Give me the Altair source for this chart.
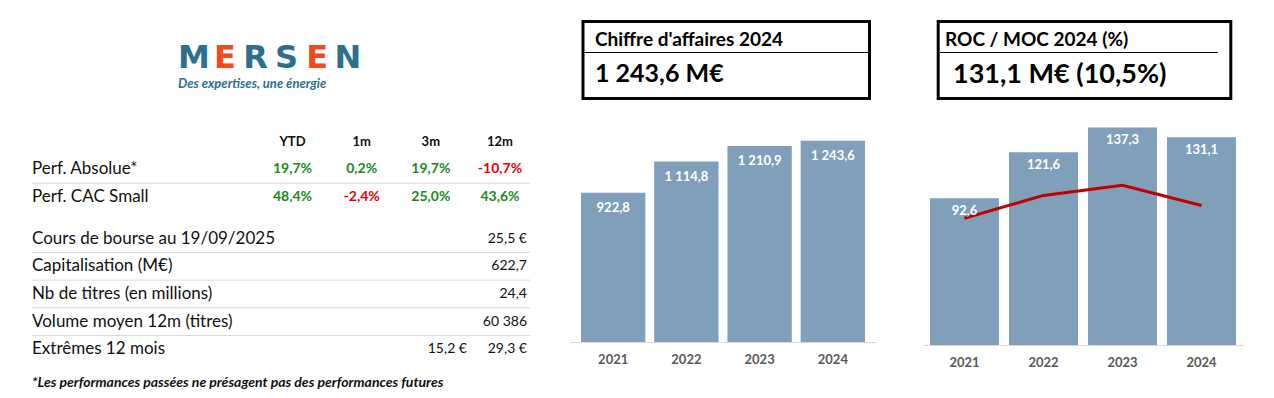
import altair as alt
import pandas as pd

# ------------------------------------------------------------------ data
YEARS = ["2021", "2022", "2023", "2024"]
CA_VALUES = [922.8, 1114.8, 1210.9, 1243.6]
ROC_VALUES = [92.6, 121.6, 137.3, 131.1]
MOC_VALUES = [10.0, 10.9, 11.3, 10.5]

PERF_COLS = ["YTD", "1m", "3m", "12m"]
PERF_ROWS = ["Perf. Absolue*", "Perf. CAC Small"]
PERF_ABS = ["19,7%", "0,2%", "19,7%", "-10,7%"]
PERF_CAC = ["48,4%", "-2,4%", "25,0%", "43,6%"]

INFO_LABELS = ["Cours de bourse au 19/09/2025", "Capitalisation (M€)",
               "Nb de titres (en millions)", "Volume moyen 12m (titres)",
               "Extrêmes 12 mois"]
INFO_VALUES = ["25,5 €", "622,7", "24,4", "60 386", "29,3 €"]
INFO_LOW = ["", "", "", "", "15,2 €"]

CA_TITLE = "Chiffre d'affaires 2024"
CA_HEADLINE = "1 243,6 M€"
ROC_TITLE = "ROC / MOC 2024 (%)"
ROC_HEADLINE = "131,1 M€ (10,5%)"
FOOTNOTE = "*Les performances passées ne présagent pas des performances futures"
LOGO_LETTERS = ["M", "E", "R", "S", "E", "N"]
LOGO_ACCENT = ["E"]
LOGO_TAGLINE = "Des expertises, une énergie"

# ------------------------------------------------------------------ layout / style
FONT = "Lato"
BAR = "#7F9FBA"
LINE = "#C00000"
GREEN = "#1a8a1a"
RED = "#e60000"
LOGO_BLUE = "#2E6F8E"
LOGO_ORANGE = "#EE4B1F"
TXT = "#111111"

PERF_SLOTS = [2, 4]
INFO_SLOTS = [7, 9, 11, 13, 15]
SEP_SLOTS = [3, 8, 10, 12, 14]


def fr(v):
    return f"{v:,.1f}".replace(",", " ").replace(".", ",")


# ------------------------------------------------------------------ left panel
cells = []
for c in PERF_COLS:
    cells.append(dict(slot=0, col=c, text=c, kind="hdr", sign="pos"))
for slot, lab, vals in zip(PERF_SLOTS, PERF_ROWS, [PERF_ABS, PERF_CAC]):
    cells.append(dict(slot=slot, col="", text=lab, kind="label", sign="pos"))
    for c, v in zip(PERF_COLS, vals):
        cells.append(dict(slot=slot, col=c, text=v, kind="perf",
                          sign="neg" if v.startswith("-") else "pos"))
for slot, lab, v, lo in zip(INFO_SLOTS, INFO_LABELS, INFO_VALUES, INFO_LOW):
    cells.append(dict(slot=slot, col="", text=lab, kind="label", sign="pos"))
    cells.append(dict(slot=slot, col="", text=v, kind="val", sign="pos"))
    if lo:
        cells.append(dict(slot=slot, col="", text=lo, kind="val2", sign="pos"))
cells_df = pd.DataFrame(cells)
sep_df = pd.DataFrame({"slot": SEP_SLOTS})
logo_df = pd.DataFrame({"i": list(range(len(LOGO_LETTERS))), "letter": LOGO_LETTERS,
                        "accent": ["a" if l in LOGO_ACCENT else "b" for l in LOGO_LETTERS]})

ys = alt.Y("slot:Q", scale=alt.Scale(domain=[0, 15], range=[133.7, 341.3], nice=False, zero=False), axis=None)
xcol = alt.X("col:N", scale=alt.Scale(type="point", domain=PERF_COLS, range=[284.5, 492], padding=0), axis=None)
xlogo = alt.X("i:O", scale=alt.Scale(type="point", domain=list(range(len(LOGO_LETTERS))), range=[186, 340], padding=0), axis=None)

base_cells = alt.Chart(cells_df)

logo = alt.Chart(logo_df).mark_text(
    font="DejaVu Sans", fontWeight="bold", fontSize=32, baseline="alphabetic", align="center"
).encode(x=xlogo, y=alt.value(60), text="letter:N",
         color=alt.Color("accent:N", scale=alt.Scale(domain=["a", "b"], range=[LOGO_ORANGE, LOGO_BLUE]), legend=None))
tagline = alt.Chart(pd.DataFrame({"t": [LOGO_TAGLINE]})).mark_text(
    font=FONT, fontWeight="bold", fontStyle="italic", fontSize=13, color=LOGO_BLUE, align="left", baseline="middle"
).encode(x=alt.value(170), y=alt.value(76), text="t:N")

hdr = base_cells.transform_filter("datum.kind == 'hdr'").mark_text(
    font=FONT, fontWeight="bold", fontSize=13, color=TXT, baseline="middle"
).encode(x=xcol, y=ys, text="text:N")
perf = base_cells.transform_filter("datum.kind == 'perf'").mark_text(
    font=FONT, fontWeight="bold", fontSize=14, baseline="middle"
).encode(x=xcol, y=ys, text="text:N",
         color=alt.Color("sign:N", scale=alt.Scale(domain=["pos", "neg"], range=[GREEN, RED]), legend=None))
labels = base_cells.transform_filter("datum.kind == 'label'").mark_text(
    font=FONT, fontSize=17, color=TXT, align="left", baseline="middle"
).encode(x=alt.value(24), y=ys, text="text:N")
vals = base_cells.transform_filter("datum.kind == 'val'").mark_text(
    font=FONT, fontSize=14, color=TXT, align="right", baseline="middle"
).encode(x=alt.value(519), y=ys, text="text:N")
vals2 = base_cells.transform_filter("datum.kind == 'val2'").mark_text(
    font=FONT, fontSize=14, color=TXT, align="right", baseline="middle"
).encode(x=alt.value(459), y=ys, text="text:N")
seps = alt.Chart(sep_df).mark_rule(color="#d9d9d9", strokeWidth=1).encode(
    x=alt.value(24), x2=alt.value(522), y=ys)
foot = alt.Chart(pd.DataFrame({"t": [FOOTNOTE]})).mark_text(
    font=FONT, fontWeight="bold", fontStyle="italic", fontSize=14, color=TXT, align="left", baseline="middle"
).encode(x=alt.value(24), y=alt.value(375), text="t:N")

left = alt.layer(logo, tagline, seps, hdr, perf, labels, vals, vals2, foot).resolve_scale(
    x="independent", y="independent", color="independent").properties(width=552, height=382)

# ------------------------------------------------------------------ bar panels
year_axis = alt.Axis(title=None, labelAngle=0, ticks=False, grid=False, domainColor="#d9d9d9", domainWidth=1,
                     labelPadding=11, labelFontSize=13, labelFontWeight="bold", labelColor="#595959",
                     labelFont=FONT)


def title_box(title, headline, x0, x1, lx0, lx1, tx, tsize, hx, hy, hsize):
    one = pd.DataFrame({"t": [title], "h": [headline]})
    rect = alt.Chart(one).mark_rect(fill="white", stroke="black", strokeWidth=3).encode(
        x=alt.value(x0), x2=alt.value(x1), y=alt.value(13.5), y2=alt.value(90.5))
    rule = alt.Chart(one).mark_rule(color="black", strokeWidth=1).encode(
        x=alt.value(lx0), x2=alt.value(lx1), y=alt.value(44.5))
    t1 = alt.Chart(one).mark_text(font=FONT, fontWeight="bold", fontSize=tsize, color="black",
                                  align="left", baseline="middle").encode(
        x=alt.value(tx), y=alt.value(31.5), text="t:N")
    t2 = alt.Chart(one).mark_text(font=FONT, fontWeight="bold", fontSize=hsize, color="black",
                                  align="left", baseline="middle").encode(
        x=alt.value(hx), y=alt.value(hy), text="h:N")
    return [rect, rule, t1, t2]


ca_df = pd.DataFrame({"year": YEARS, "value": CA_VALUES, "label": [fr(v) for v in CA_VALUES]})
x_ca = alt.X("year:N", sort=YEARS, scale=alt.Scale(domain=YEARS, range=[10, 316], paddingInner=0.121, paddingOuter=0.15), axis=year_axis)
y_ca = alt.Y("value:Q", scale=alt.Scale(domain=[0, 2064], nice=False, zero=True), axis=None)
ca_bars = alt.Chart(ca_df).mark_bar(color=BAR).encode(x=x_ca, y=y_ca)
ca_lab = alt.Chart(ca_df).mark_text(font=FONT, fontWeight="bold", fontSize=13, color="white",
                                    baseline="middle", dy=15).encode(x=x_ca, y=y_ca, text="label:N")
mid = alt.layer(*title_box(CA_TITLE, CA_HEADLINE, 23, 309.5, 23, 309, 35, 19, 35, 65.5, 25),
                ca_bars, ca_lab).properties(width=340, height=334)

roc_df = pd.DataFrame({"year": YEARS, "value": ROC_VALUES, "moc": MOC_VALUES,
                       "label": [fr(v) for v in ROC_VALUES]})
x_roc = alt.X("year:N", sort=YEARS, scale=alt.Scale(domain=YEARS, range=[23, 343], paddingInner=0.127, paddingOuter=0.0886), axis=year_axis)
y_roc = alt.Y("value:Q", scale=alt.Scale(domain=[0, 212.7], nice=False, zero=True), axis=None)
roc_bars = alt.Chart(roc_df).mark_bar(color=BAR).encode(x=x_roc, y=y_roc)
roc_line = alt.Chart(roc_df).mark_line(color=LINE, strokeWidth=3).encode(
    x=x_roc, y=alt.Y("moc:Q", scale=alt.Scale(domain=[5, 18.29], nice=False, zero=False), axis=None))
roc_lab = alt.Chart(roc_df).mark_text(font=FONT, fontWeight="bold", fontSize=13, color="white",
                                      baseline="middle", dy=13).encode(x=x_roc, y=y_roc, text="label:N")
right = alt.layer(*title_box(ROC_TITLE, ROC_HEADLINE, 38.2, 330.8, 40, 318, 45, 19, 53, 67, 27),
                  roc_bars, roc_line, roc_lab).resolve_scale(y="independent").properties(width=366, height=337)

chart = alt.hconcat(left, mid, right, spacing=0, bounds="flush").properties(padding=0).configure(
    font=FONT, view=alt.ViewConfig(stroke=None))

chart.save("out.html", embed_options={"renderer": "svg", "actions": False})
